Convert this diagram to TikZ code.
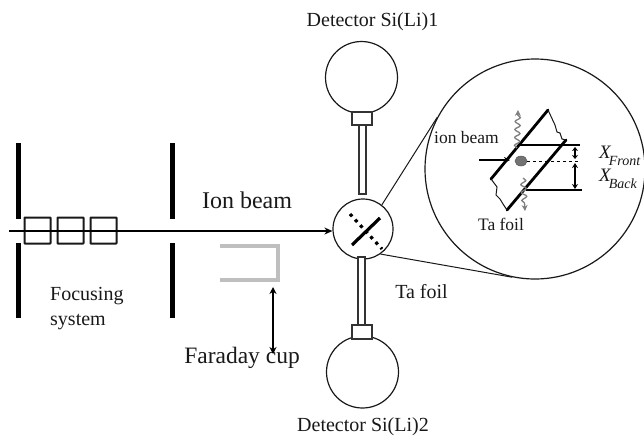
\documentclass[tikz,border=0pt]{standalone}
\usepackage{fontspec}
\setmainfont{Liberation Serif}
\usetikzlibrary{arrows.meta,decorations.pathmorphing}
\tikzset{
  x=1pt,y=-1pt,
  plate/.style={draw=black,line width=5pt},
  lens/.style={draw=black!90,line width=2pt,minimum width=26pt,minimum height=26pt,inner sep=0pt,rounded corners=.5pt},
  ring/.style={circle,draw=black!90,line width=1.2pt,inner sep=0pt},
  tube/.style={draw=black!80,line width=1.2pt,fill=white,inner sep=0pt},
  lbl/.style={font=\fontsize{20}{20}\selectfont,inner sep=0pt,text=black!90},
  big/.style={font=\fontsize{24}{24}\selectfont,inner sep=0pt,text=black!90},
  small/.style={font=\fontsize{17.5}{17.5}\selectfont,inner sep=0pt,text=black!90},
  xlab/.style={anchor=base west,inner sep=0pt,font=\fontsize{19}{19}\selectfont,text=black!90},
  foil/.style={line width=2.8pt,black,line cap=round},
  rad/.style={draw=black!50,line width=1.3pt,-{Stealth[length=6pt,width=6pt]},decorate,decoration={snake,amplitude=2.6pt,segment length=8pt,post length=5pt}},
  conn/.style={draw=black!90,line width=1pt},
  tick/.style={draw=black,line width=1.2pt},
  dbl/.style={draw=black,line width=1.2pt,{Stealth[length=5pt,width=6pt]}-{Stealth[length=5pt,width=6pt]}}
}
\newcommand{\xsub}[1]{\textit{X}\kern-2.5pt\raisebox{-7pt}{\fontsize{14}{14}\selectfont\textit{#1}}}
\begin{document}
\begin{tikzpicture}
\useasboundingbox (0,0) rectangle (644,437);
\fill[white] (0,0) rectangle (644,437);
% plates
\draw[plate] (18,143) -- (18,219);
\draw[plate] (18,243) -- (18,318);
\draw[plate] (172,143) -- (172,219);
\draw[plate] (172,243) -- (172,318);
% lenses
\node[lens] (l1) at (37.5,230.5) {};
\node[lens] (l2) at (70.5,230.5) {};
\node[lens] (l3) at (103.5,230.5) {};
% target chamber
\node[ring,minimum size=60pt] (chamber) at (363,229) {};
\coordinate (beamstart) at (9,231);
\draw[black,line width=1.4pt,-{Stealth[length=8pt,width=7pt]}] (beamstart) -- (chamber.west |- beamstart);
% foil in chamber
\coordinate (fa) at (352,245); \coordinate (fb) at (380,218);
\coordinate (da) at (350,214); \coordinate (db) at (382,249);
\draw[black,line width=3.2pt] (fa) -- (fb);
\draw[black,line width=3.2pt,dash pattern=on 3.2pt off 4.4pt] (da) -- (db);
% detectors
\node[ring,minimum size=72pt] (det1) at (361.5,77.5) {};
\node[tube,minimum width=20pt,minimum height=13pt] (neck1) at (362,118.5) {};
\node[tube,minimum width=7pt,minimum height=69pt] (tube1) at (362.5,159.5) {};
\node[ring,minimum size=72pt] (det2) at (362.5,372) {};
\node[tube,minimum width=20pt,minimum height=14pt] (neck2) at (362,332) {};
\node[tube,minimum width=7pt,minimum height=68pt] (tube2) at (361.5,291) {};
% labels
\node[lbl] (t1) at (372.5,22) {Detector Si(Li)1};
\node[lbl] (t2) at (363,427) {Detector Si(Li)2};
\node[big] (t3) at (247,200) {Ion beam};
\node[font=\fontsize{23.5}{23.5}\selectfont,inner sep=0pt,text=black!90] (t4) at (242,358) {Faraday cup};
\node[lbl,anchor=west] (t5) at (50,296) {Focusing};
\node[lbl,anchor=west] (t6) at (50,322) {system};
\node[lbl] (t7) at (421.5,292) {Ta foil};
% Faraday cup
\draw[draw=black!25,line width=3.5pt] (220,246) -- (278,246) -- (278,280) -- (220,280);
\coordinate (cupa) at (273,287); \coordinate (cupb) at (273,354);
\draw[draw=black,line width=1.8pt,{Stealth[length=7pt,width=7pt]}-{Stealth[length=7pt,width=7pt]}] (cupa) -- (cupb);
% magnifier
\node[ring,minimum size=220pt] (mag) at (535,169) {};
\draw[conn] (chamber.52) -- (mag.152);
\draw[conn] (chamber.-55) -- (mag.-102);
% inset
\coordinate (f1) at (548,110); \coordinate (f2) at (491,179);
\coordinate (b1) at (566,140); \coordinate (b2) at (507,210);
\draw[foil] (f1) -- (f2);
\draw[foil] (b1) -- (b2);
\draw[black!90,line width=1pt] (f1) -- (555,125) -- (557,132) -- (560,133) -- (562,139) -- (b1);
\draw[black!90,line width=1pt] (f2) -- (497,187) -- (496,195) -- (500,199) -- (503,204) -- (b2);
\draw[fill=black!55,draw=black!65,line width=.5pt] (521,161) ellipse [x radius=6, y radius=5];
\coordinate (in) at (479,160);
\draw[black,line width=1.8pt,-{Stealth[length=6pt,width=6pt]}] (in) -- (510,160);
\draw[black,line width=1pt,dashed] (527,161) -- (578,161);
\draw[tick] (518,145) -- (580,145);
\draw[tick] (526,190) -- (582,190);
\draw[dbl,{Stealth[length=4pt,width=6pt]}-{Stealth[length=4pt,width=6pt]}] (575,147) -- (575,159);
\draw[dbl] (575,163) -- (575,189);
\draw[rad] (517,148) -- (518,110);
\draw[rad] (523,178) -- (525,211);
\node[small,anchor=west] (t8) at (434,138) {ion beam};
\node[small] (t9) at (501,224) {Ta foil};
\node[xlab] (t10) at (599,158) {\xsub{Front}};
\node[xlab] (t12) at (599,181) {\xsub{Back}};
\end{tikzpicture}
\end{document}
